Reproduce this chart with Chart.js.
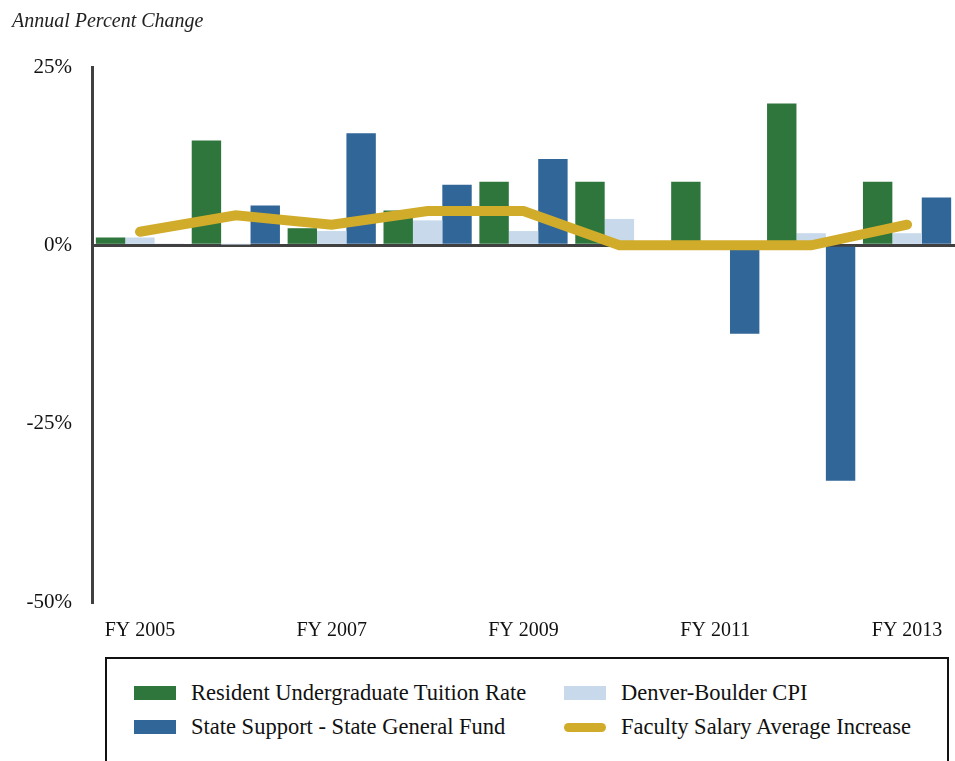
<!DOCTYPE html>
<html>
<head>
<meta charset="utf-8">
<script src="https://cdn.jsdelivr.net/npm/chart.js@4.4.1/dist/chart.umd.min.js"></script>
<style>
  body { margin: 0; background: #fff; }
  #wrap { position: relative; width: 955px; height: 761px; overflow: hidden; }
  #chart { position: absolute; left: 0; top: 0; }
  #legend {
    position: absolute; left: 105px; top: 657px; width: 844px; height: 130px;
    border: 2px solid #111; box-sizing: border-box;
    font-family: "Liberation Serif", serif; font-size: 22.5px; color: #111;
  }
  .item { position: absolute; display: flex; align-items: center; white-space: nowrap; }
  .swatch { width: 42px; height: 14px; margin-right: 15px; }
  .swatch.line { height: 9px; border-radius: 5px; }
</style>
</head>
<body>
<div id="wrap">
  <canvas id="chart" width="955" height="650"></canvas>
  <div id="legend"></div>
</div>
<script>
const years = ["FY 2005", "FY 2006", "FY 2007", "FY 2008", "FY 2009", "FY 2010", "FY 2011", "FY 2012", "FY 2013"];
const tuition = [1.1, 14.7, 2.4, 4.9, 8.9, 8.9, 8.9, 19.9, 8.9];
const cpi = [1.1, 0.1, 2.0, 3.5, 2.0, 3.7, -0.6, 1.7, 1.7];
const stateFund = [0.2, 5.6, 15.7, 8.5, 12.1, 0, -12.4, -33.0, 6.7];
const salary = [1.9, 4.2, 2.9, 4.8, 4.8, 0, 0, 0, 2.9];
const yTicks = [25, 0, -25, -50];

const GREEN = "#2e763c", LIGHT = "#c7d9eb", BLUE = "#316699", GOLD = "#d1ac2a";
const AXIS = "#404040";
const serif = "'Liberation Serif', serif";

// heading drawn at top-left of canvas
const headingPlugin = {
  id: "heading",
  afterDraw(chart) {
    const ctx = chart.ctx;
    ctx.save();
    ctx.font = "italic 20px " + serif;
    ctx.fillStyle = "#222";
    ctx.textBaseline = "alphabetic";
    ctx.fillText("Annual Percent Change", 12, 27);
    ctx.restore();
  }
};

function drawChart() {
  const chart = new Chart(document.getElementById("chart"), {
    data: {
      labels: years,
      datasets: [
        { type: "line", label: "Faculty Salary Average Increase", data: salary, borderColor: GOLD, backgroundColor: GOLD,
          borderWidth: 10, pointRadius: 0, tension: 0, borderCapStyle: "round", borderJoinStyle: "miter", order: 0 },
        { type: "bar", label: "Resident Undergraduate Tuition Rate", data: tuition, backgroundColor: GREEN, order: 1 },
        { type: "bar", label: "Denver-Boulder CPI", data: cpi, backgroundColor: LIGHT, order: 1 },
        { type: "bar", label: "State Support - State General Fund", data: stateFund, backgroundColor: BLUE, order: 1 }
      ]
    },
    options: {
      responsive: false,
      animation: false,
      layout: { padding: { top: 67, right: 0, left: 0, bottom: 0 } },
      datasets: { bar: { categoryPercentage: 0.92, barPercentage: 1.0 } },
      plugins: { legend: { display: false }, tooltip: { enabled: false } },
      scales: {
        x: {
          grid: { display: false },
          border: { display: false },
          ticks: {
            color: "#111", font: { family: serif, size: 20 }, padding: 9,
            maxRotation: 0, autoSkip: false,
            callback: (v, i) => (i % 2 === 0 ? years[i] : "")
          },
          afterFit: (s) => { s.height = 48; }
        },
        y: {
          min: -50, max: 25,
          afterBuildTicks: (s) => { s.ticks = yTicks.map(v => ({ value: v })); },
          grid: {
            drawTicks: false,
            color: (c) => (c.tick && c.tick.value === 0 ? AXIS : "rgba(0,0,0,0)"),
            lineWidth: 3
          },
          border: { display: true, color: AXIS, width: 3 },
          ticks: {
            color: "#111", font: { family: serif, size: 21 }, padding: 20,
            callback: (v) => v + "%"
          },
          afterFit: (s) => { s.width = 92; }
        }
      }
    },
    plugins: [headingPlugin]
  });

  // legend box laid out as two columns
  const legendItems = [
    { label: chart.data.datasets[1].label, color: GREEN, x: 27, y: 34, line: false },
    { label: chart.data.datasets[2].label, color: LIGHT, x: 457, y: 34, line: false },
    { label: chart.data.datasets[3].label, color: BLUE, x: 27, y: 68, line: false },
    { label: chart.data.datasets[0].label, color: GOLD, x: 457, y: 68, line: true }
  ];
  const legend = document.getElementById("legend");
  legendItems.forEach(it => {
    const d = document.createElement("div");
    d.className = "item";
    d.style.left = it.x + "px";
    d.style.top = (it.y - 14) + "px";
    d.style.height = "28px";
    const sw = document.createElement("span");
    sw.className = "swatch" + (it.line ? " line" : "");
    sw.style.background = it.color;
    const t = document.createElement("span");
    t.textContent = it.label;
    d.appendChild(sw);
    d.appendChild(t);
    legend.appendChild(d);
  });
}

Promise.all([
  document.fonts.load("21px 'Liberation Serif'"),
  document.fonts.load("italic 21px 'Liberation Serif'")
]).then(drawChart, drawChart);
</script>
</body>
</html>
